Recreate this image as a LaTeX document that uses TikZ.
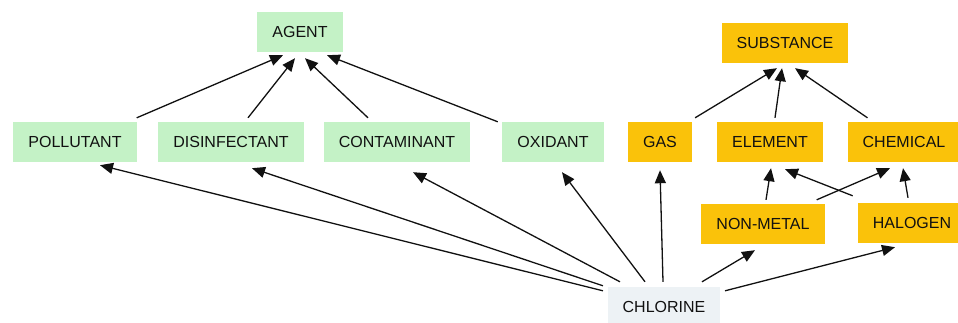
\documentclass[tikz,border=0pt]{standalone}
\usepackage{tikz}
\usepackage{xcolor}
\usepackage{fontspec}
\setmainfont{Liberation Sans}
\usetikzlibrary{arrows.meta}

\definecolor{agentgreen}{HTML}{C4F2C6}
\definecolor{substorange}{HTML}{FAC20A}
\definecolor{chlorgray}{HTML}{EDF2F5}
\definecolor{inkgray}{HTML}{111111}

\tikzset{
  concept/.style={minimum height=40pt, inner xsep=15pt, inner ysep=0pt,
    text=inkgray, font=\fontsize{16}{18}\selectfont},
  greenbox/.style={concept, fill=agentgreen},
  orangebox/.style={concept, fill=substorange},
  graybox/.style={concept, fill=chlorgray},
  isa/.style={draw=inkgray, line width=1.3pt, -{Triangle[length=13pt,width=11pt]}}
}

\begin{document}
\begin{tikzpicture}[x=1pt, y=-1pt]
  \useasboundingbox (0,0) rectangle (958,323);

  % Top concepts
  \node[greenbox] (agent) at (300,32) {AGENT};
  \node[orangebox] (substance) at (785,43) {SUBSTANCE};

  % Middle row
  \node[greenbox] (pollutant) at (75,142) {POLLUTANT};
  \node[greenbox] (disinfectant) at (231,142) {DISINFECTANT};
  \node[greenbox] (contaminant) at (397,142) {CONTAMINANT};
  \node[greenbox] (oxidant) at (553,142) {OXIDANT};
  \node[orangebox] (gas) at (660,142) {GAS};
  \node[orangebox] (element) at (770,142) {ELEMENT};
  \node[orangebox] (chemical) at (904,142) {CHEMICAL};

  % Lower row
  \node[orangebox] (nonmetal) at (763,224) {NON-METAL};
  \node[orangebox] (halogen) at (912,223) {HALOGEN};
  \node[graybox] (chlorine) at (664,307) {CHLORINE};

  % Edges into AGENT
  \draw[isa] ([yshift=4pt]pollutant.north east) -- ([xshift=-17pt,yshift=-3pt]agent.south);
  \draw[isa] ([xshift=17pt,yshift=4pt]disinfectant.north) -- ([xshift=-5pt,yshift=-6pt]agent.south);
  \draw[isa] ([xshift=-29pt,yshift=4pt]contaminant.north) -- ([xshift=5pt,yshift=-6pt]agent.south);
  \draw[isa] ([xshift=-4.5pt]oxidant.north west) -- ([xshift=27pt,yshift=-3pt]agent.south);

  % Edges into SUBSTANCE
  \draw[isa] ([xshift=3pt,yshift=4pt]gas.north east) -- ([xshift=-8pt,yshift=-5pt]substance.south);
  \draw[isa] ([xshift=5pt,yshift=4pt]element.north) -- ([xshift=-3pt,yshift=-5pt]substance.south);
  \draw[isa] ([xshift=20pt,yshift=4pt]chemical.north west) -- ([xshift=10pt,yshift=-5pt]substance.south);

  % Edges into ELEMENT and CHEMICAL
  \draw[isa] ([xshift=3pt,yshift=4pt]nonmetal.north) -- ([xshift=1pt,yshift=-6pt]element.south);
  \draw[isa] ([xshift=-5pt,yshift=7pt]halogen.north west) -- ([xshift=15pt,yshift=-7pt]element.south);
  \draw[isa] ([xshift=-8pt,yshift=4pt]nonmetal.north east) -- ([xshift=-14pt,yshift=-6pt]chemical.south);
  \draw[isa] ([xshift=-4pt,yshift=5pt]halogen.north) -- ([xshift=-1pt,yshift=-6pt]chemical.south);

  % Edges out of CHLORINE
  \draw[isa] ([xshift=-4.5pt,yshift=-4pt]chlorine.north west) -- ([xshift=25pt,yshift=-3pt]pollutant.south);
  \draw[isa] ([xshift=-4.5pt,yshift=1pt]chlorine.north west) -- ([xshift=21pt,yshift=-6pt]disinfectant.south);
  \draw[isa] ([xshift=12.5pt,yshift=5pt]chlorine.north west) -- ([xshift=16pt,yshift=-10pt]contaminant.south);
  \draw[isa] ([xshift=-19pt,yshift=5pt]chlorine.north) -- ([xshift=9pt,yshift=-10pt]oxidant.south);
  \draw[isa] ([xshift=-1pt,yshift=5pt]chlorine.north) -- ([yshift=-8pt]gas.south);
  \draw[isa] ([xshift=38pt,yshift=5pt]chlorine.north) -- ([xshift=-8pt,yshift=-6pt]nonmetal.south);
  \draw[isa] ([xshift=4.5pt,yshift=-4pt]chlorine.north east) -- ([xshift=-17pt,yshift=-4pt]halogen.south);
\end{tikzpicture}
\end{document}
